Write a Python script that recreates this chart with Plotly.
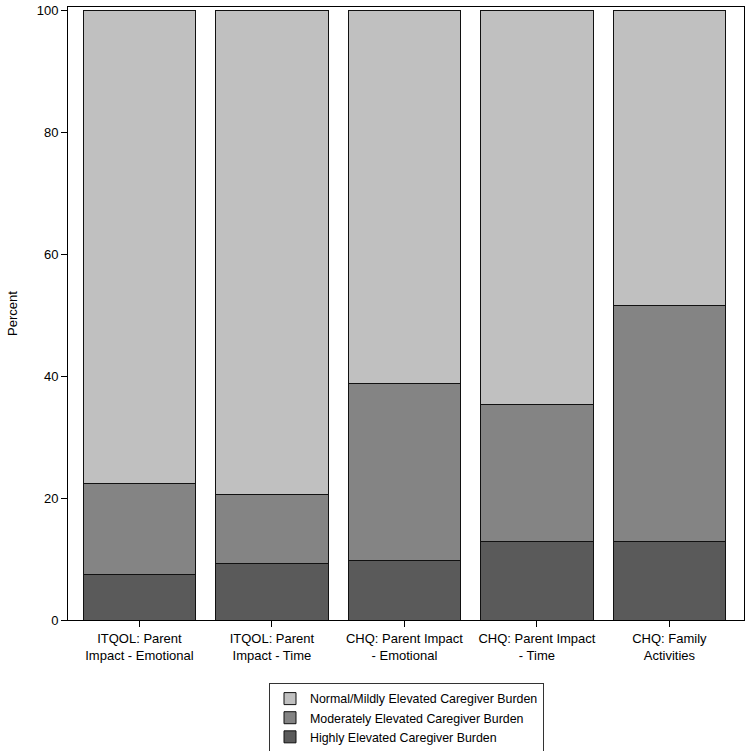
import plotly.graph_objects as go

categories = [
    "ITQOL: Parent<br>Impact - Emotional",
    "ITQOL: Parent<br>Impact - Time",
    "CHQ: Parent Impact<br>- Emotional",
    "CHQ: Parent Impact<br>- Time",
    "CHQ: Family<br>Activities",
]
highly = [7.4, 9.3, 9.7, 12.8, 12.8]
moderately = [14.9, 11.2, 29.0, 22.6, 38.8]
normal = [77.7, 79.5, 61.3, 64.6, 48.4]

series_names = [
    "Highly Elevated Caregiver Burden",
    "Moderately Elevated Caregiver Burden",
    "Normal/Mildly Elevated Caregiver Burden",
]
series_colors = ["#5a5a5a", "#848484", "#c0c0c0"]
series_values = [highly, moderately, normal]

fig = go.Figure()
for name, color, vals in zip(series_names, series_colors, series_values):
    fig.add_trace(go.Bar(
        x=list(range(len(categories))), y=vals, name=name,
        marker=dict(color=color, line=dict(color="#111111", width=1)),
        width=0.85,
    ))

fig.update_layout(
    barmode="stack",
    width=750, height=751,
    margin=dict(l=68, r=6, t=7, b=131, autoexpand=False),
    plot_bgcolor="white", paper_bgcolor="white",
    font=dict(family="Liberation Sans, Arial, sans-serif", size=12, color="black"),
    showlegend=True,
    legend=dict(
        traceorder="reversed",
        xref="container", yref="container",
        x=0.542, xanchor="center", y=0.0905, yanchor="top",
        bordercolor="#333333", borderwidth=1,
        font=dict(size=12.4),
        itemclick=False, tracegroupgap=0,
        itemwidth=30,
    ),
    xaxis=dict(
        tickmode="array", tickvals=list(range(len(categories))), ticktext=categories,
        range=[-0.539, 4.563],
        showline=True, linecolor="black", linewidth=1, mirror=True,
        ticks="outside", ticklen=6, tickcolor="black",
        showgrid=False, zeroline=False, automargin=False,
        tickfont=dict(size=13),
    ),
    yaxis=dict(
        range=[0, 100.5],
        tickvals=[0, 20, 40, 60, 80, 100],
        showline=True, linecolor="black", linewidth=1, mirror=True,
        ticks="outside", ticklen=6, tickcolor="black",
        showgrid=False, zeroline=False, automargin=False,
        title=dict(text="Percent", standoff=16, font=dict(size=13)),
        tickfont=dict(size=13),
    ),
)

fig.write_html(
    "out.html",
    config={"displayModeBar": False},
    post_script="document.body.style.margin='0';",
)
